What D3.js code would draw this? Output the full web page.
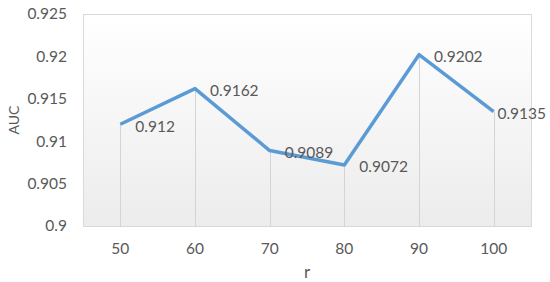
<!DOCTYPE html>
<html>
<head>
<meta charset="utf-8">
<script src="https://cdn.jsdelivr.net/npm/d3@7"></script>
<style>
  body { margin: 0; background: #fff; }
  text { font-family: Lato, "Open Sans", sans-serif; fill: #595959; }
</style>
</head>
<body>
<svg id="chart"></svg>
<script>
const categories = ['50', '60', '70', '80', '90', '100'];
const aucValues = [0.912, 0.9162, 0.9089, 0.9072, 0.9202, 0.9135];
const labels = ['0.912', '0.9162', '0.9089', '0.9072', '0.9202', '0.9135'];
const yTicks = [0.9, 0.905, 0.91, 0.915, 0.92, 0.925];

const width = 550, height = 282;
const margin = { top: 14, right: 19, bottom: 56, left: 83 };

const svg = d3.select('#chart')
	.attr('width', width)
	.attr('height', height);

const xScale = d3.scaleBand()
	.domain(categories)
	.range([margin.left, width - margin.right])
	.padding(0);

const yScale = d3.scaleLinear()
	.domain([0.9, 0.925])
	.range([height - margin.bottom, margin.top]);

const xPos = (d) => xScale(d) + xScale.bandwidth() / 2;

// plot area gradient
const grad = svg.append('defs').append('linearGradient')
	.attr('id', 'bg')
	.attr('x1', 0).attr('y1', 0).attr('x2', 0).attr('y2', 1);
grad.append('stop').attr('offset', '0%').attr('stop-color', '#ffffff');
grad.append('stop').attr('offset', '100%').attr('stop-color', '#ececec');

svg.append('rect')
	.attr('x', margin.left + 0.5)
	.attr('y', margin.top + 0.5)
	.attr('width', width - margin.right - margin.left)
	.attr('height', height - margin.bottom - margin.top)
	.attr('fill', 'url(#bg)')
	.attr('stroke', '#d9d9d9')
	.attr('stroke-width', 1);

// drop lines
svg.selectAll('.drop')
	.data(aucValues)
	.enter()
	.append('line')
	.attr('class', 'drop')
	.attr('x1', (d, i) => Math.round(xPos(categories[i])) + 0.5)
	.attr('x2', (d, i) => Math.round(xPos(categories[i])) + 0.5)
	.attr('y1', d => yScale(d))
	.attr('y2', height - margin.bottom)
	.style('stroke', '#d4d4d4')
	.style('stroke-width', 1);

// y axis labels
const yAxis = d3.axisLeft(yScale)
	.tickValues(yTicks)
	.tickFormat(d => d3.format('')(+d.toFixed(3)))
	.tickSize(0)
	.tickPadding(16);

svg.append('g')
	.attr('class', 'y axis')
	.attr('transform', `translate(${margin.left}, 0)`)
	.call(yAxis)
	.call(g => g.select('.domain').remove())
	.selectAll('text')
	.style('font-size', '15.5px')
	.attr('fill', '#595959');

// x axis labels
const xAxis = d3.axisBottom(xScale)
	.tickSize(0)
	.tickPadding(17);

svg.append('g')
	.attr('class', 'x axis')
	.attr('transform', `translate(0, ${height - margin.bottom})`)
	.call(xAxis)
	.call(g => g.select('.domain').remove())
	.selectAll('text')
	.style('font-size', '15.5px')
	.attr('fill', '#595959');

// line
const line = d3.line()
	.x((d, i) => xPos(categories[i]))
	.y(d => yScale(d));

svg.append('path')
	.datum(aucValues)
	.attr('d', line)
	.attr('fill', 'none')
	.style('stroke', '#5b9bd5')
	.style('stroke-width', 3.5)
	.style('stroke-linejoin', 'round');

// data labels, pushed back inside when they would run off the right edge
svg.selectAll('.label')
	.data(aucValues)
	.enter()
	.append('text')
	.attr('class', 'label')
	.attr('y', d => yScale(d) + 2)
	.attr('dy', '0.35em')
	.style('font-size', '15.5px')
	.text((d, i) => labels[i])
	.attr('x', function(d, i) {
		const w = this.getComputedTextLength();
		return Math.min(xPos(categories[i]) + 15, width - 4 - w);
	});

// axis titles
svg.append('text')
	.attr('transform', `translate(14, ${(margin.top + height - margin.bottom) / 2}) rotate(-90)`)
	.attr('text-anchor', 'middle')
	.attr('dy', '0.35em')
	.style('font-size', '14px')
	.text('AUC');

svg.append('text')
	.attr('x', (margin.left + width - margin.right) / 2)
	.attr('y', 272)
	.attr('text-anchor', 'middle')
	.attr('dy', '0.35em')
	.style('font-size', '17px')
	.text('r');
</script>
</body>
</html>
